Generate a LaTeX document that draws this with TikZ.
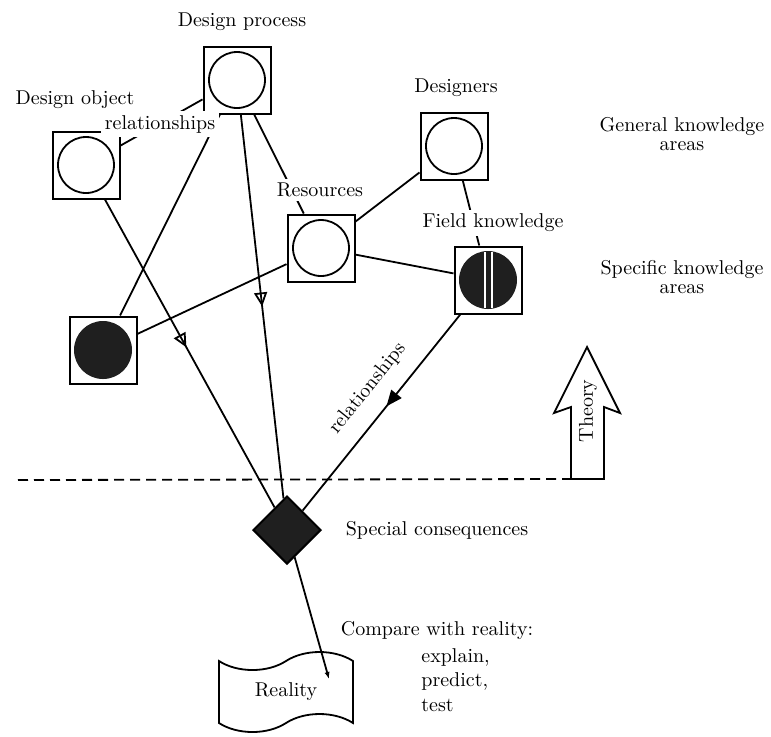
\documentclass[tikz,border=0pt]{standalone}
\usepackage{tikz}
\usetikzlibrary{arrows.meta,positioning,decorations.markings,shapes.geometric,shapes.symbols}
\tikzset{
  >={Latex[length=3.5pt]},
  lbl/.style={font=\fontsize{10}{9.2}\selectfont, inner sep=1pt, align=center},
  cover/.style={lbl, fill=white, inner sep=2pt},
  kbox/.style={draw, line width=1pt, minimum size=33.5pt, inner sep=0pt,
    path picture={\draw[line width=.9pt] (path picture bounding box.center) circle (14pt);}},
  darkbox/.style={kbox,
    path picture={\fill[black!88] (path picture bounding box.center) circle (14.5pt);}},
  fieldbox/.style={kbox,
    path picture={\fill[black!88] (path picture bounding box.center) circle (14.5pt);
      \draw[white, line width=1.1pt] ([xshift=-1.6pt,yshift=-14pt]path picture bounding box.center) -- ++(0,28pt);
      \draw[white, line width=1.1pt] ([xshift=2pt,yshift=-14pt]path picture bounding box.center) -- ++(0,28pt);}},
  conseq/.style={draw, diamond, fill=black!88, line width=1pt, minimum size=34pt, inner sep=0pt},
  conn/.style={line width=.9pt},
  openmid/.style={conn, postaction={decorate}, decoration={markings,
    mark=at position #1 with {\arrow{Triangle[open, length=7pt, width=6.5pt, line width=.9pt]}}}},
  fillmid/.style={conn, postaction={decorate}, decoration={markings,
    mark=at position #1 with {\arrow{Triangle[length=8pt, width=6.5pt]}}}},
}

\begin{document}
\begin{tikzpicture}[x=0.5pt, y=-0.5pt]
  \useasboundingbox (0,0) rectangle (771,736);

  % knowledge areas
  \node[kbox] (dproc) at (237,80) {};
  \node[kbox] (dobj) at (86,165) {};
  \node[kbox] (des) at (454,146) {};
  \node[kbox] (res) at (321,248) {};
  \node[fieldbox] (field) at (488,280) {};
  \node[darkbox] (dark) at (103,350) {};
  \node[conseq] (diam) at (287,530) {};
  \node[draw, tape, line width=.9pt, minimum width=67pt, minimum height=40pt,
        tape bend height=9pt, lbl] (real) at (286,692) {Reality};
  \coordinate (realtip) at (329,679);

  % connectors
  \draw[conn] (dobj) -- (dproc);
  \draw[conn] (dark) -- (dproc);
  \draw[conn] (dproc) -- (res);
  \draw[conn] (des) -- (res);
  \draw[conn] (des) -- (field);
  \draw[conn] (res) -- (field);
  \draw[conn] (res) -- (dark);
  \draw[openmid=.48] (dobj) -- (diam);
  \draw[openmid=.5] (dproc) -- (diam);
  \draw[fillmid=.47] (field) -- node[lbl, sloped, above=7pt, pos=.46] {relationships} (diam);
  \draw[conn, ->] (diam) -- (realtip);

  % labels
  \node[lbl] (dproc-lbl) at (242,22) {Design process};
  \node[lbl] (dobj-lbl) at (75,100) {Design object};
  \node[cover] (rel-lbl) at (160,124) {relationships};
  \node[cover] (res-lbl) at (320,190) {Resources};
  \node[lbl] (des-lbl) at (456,88) {Designers};
  \node[cover] (field-lbl) at (493,223) {Field knowledge};
  \node[lbl] (gen) at (682,134) {General knowledge\\areas};
  \node[lbl] (spec) at (682,277) {Specific knowledge\\areas};
  \node[lbl] (cons) at (437,530) {Special consequences};
  \node[lbl] (cmp) at (437,630) {Compare with reality:};
  \node[lbl, align=left, anchor=north west, font=\fontsize{10}{12.2}\selectfont] (cmplist) at (419,646) {explain,\\predict,\\test};

  % theory arrow and border line
  \draw[line width=.9pt] (571,479) coordinate (tbase) -- (571,407) -- (554,413) -- (587,347)
    -- (620,413) -- (604,407) -- (604,479) -- cycle;
  \node[lbl, rotate=90] (theory) at (588,411) {Theory};
  \draw[line width=.9pt, dash pattern=on 5pt off 3pt] (18,480) -- (tbase);
\end{tikzpicture}
\end{document}
